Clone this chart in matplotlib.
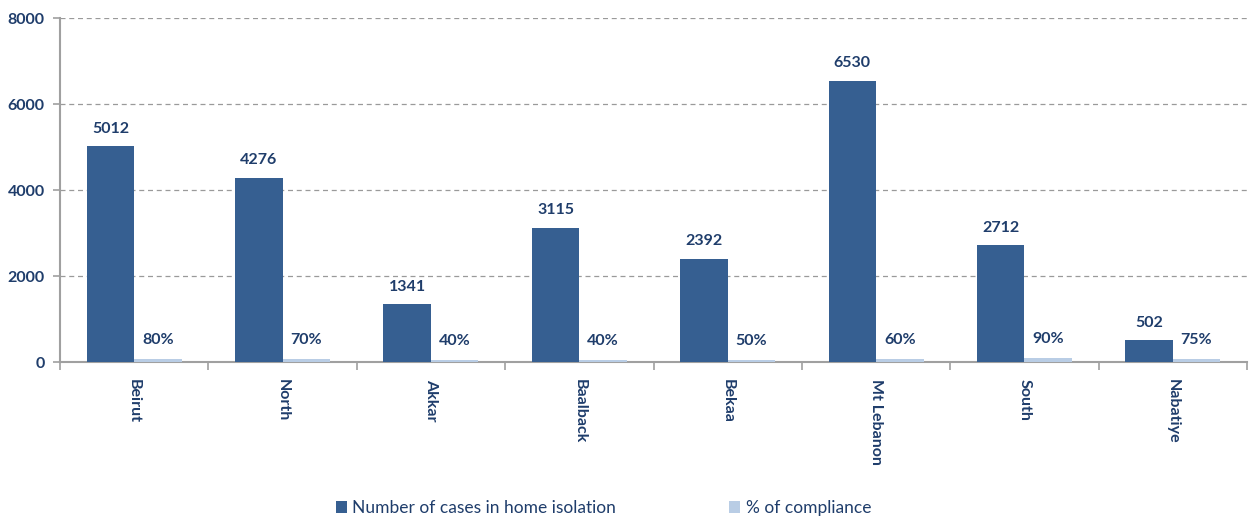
import matplotlib
matplotlib.use("Agg")
import matplotlib.pyplot as plt
import numpy as np

categories = ["Beirut", "North", "Akkar", "Baalback", "Bekaa", "Mt Lebanon", "South", "Nabatiye"]
cases = [5012, 4276, 1341, 3115, 2392, 6530, 2712, 502]
compliance = [80, 70, 40, 40, 50, 60, 90, 75]
series_names = ["Number of cases in home isolation", "% of compliance"]
yticks = [0, 2000, 4000, 6000, 8000]

dark = "#365F91"
light = "#B9CDE5"
txt = "#1F3D6B"
plt.rcParams['font.family'] = ['Lato', 'DejaVu Sans']

fig = plt.figure(figsize=(12.52, 5.18), dpi=100)
ax = fig.add_axes([60/1252, 1-362/518, (1247-60)/1252, (362-18)/518])

x = np.arange(len(categories))
w = 0.32
b1 = ax.bar(x - w/2, cases, w, color=dark, label=series_names[0], zorder=3)
b2 = ax.bar(x + w/2, compliance, w, color=light, label=series_names[1], zorder=3)

for xi, v in zip(x, cases):
    ax.text(xi - w/2, v + 250, str(v), ha='center', va='bottom', fontsize=11.5,
            fontweight='bold', color=txt)
for xi, v in zip(x, compliance):
    ax.text(xi + w/2, v + 280, f"{v}%", ha='center', va='bottom', fontsize=11.5,
            fontweight='bold', color=txt)

ax.set_xlim(-0.5, len(categories) - 0.5)
ax.set_ylim(0, 8000)
ax.set_yticks(yticks)
ax.set_yticklabels([str(t) for t in yticks], fontsize=11.5, fontweight='bold', color=txt)
ax.yaxis.grid(True, linestyle=(0, (4, 3)), color='#9A9A9A', linewidth=0.9, zorder=0)
ax.set_axisbelow(True)

ax.set_xticks(x)
ax.set_xticklabels(categories, rotation=-90, fontsize=11.5, fontweight='bold', color=txt)
ax.tick_params(axis='x', length=0, pad=12)
ax.set_xticks(np.arange(-0.5, len(categories)), minor=True)
ax.tick_params(axis='x', which='minor', length=6, color='#A0A0A0', width=1.2)
ax.tick_params(axis='y', length=5, color='#A0A0A0', width=1.2, pad=6)

for s in ['top', 'right']:
    ax.spines[s].set_visible(False)
for s in ['left', 'bottom']:
    ax.spines[s].set_color('#A0A0A0')
    ax.spines[s].set_linewidth(1.5)

leg = fig.legend(handles=[b1, b2], loc='center', bbox_to_anchor=(0.482, 1-508/518),
                 ncol=2, frameon=False, fontsize=12.5, handlelength=0.65, handleheight=0.65,
                 columnspacing=6.5, handletextpad=0.3)
for t in leg.get_texts():
    t.set_color(txt)

fig.savefig("out.png", dpi=100)
